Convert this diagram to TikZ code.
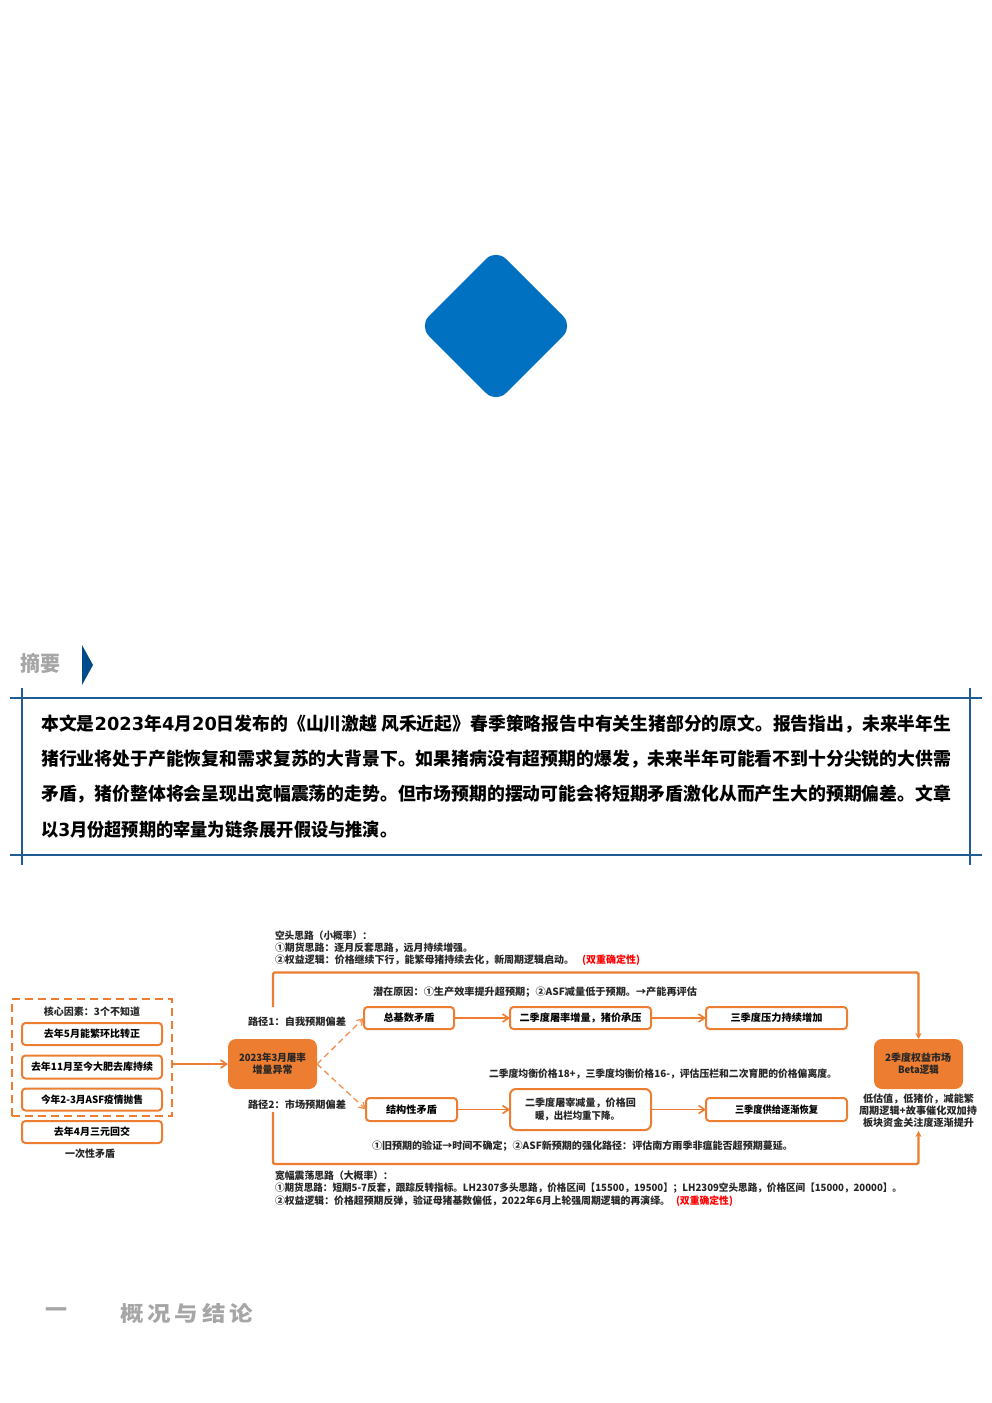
\documentclass[tikz,border=0pt]{standalone}
\usepackage{fontspec}
\usepackage{graphicx}
\setmainfont{Noto Sans CJK SC}
\newfontfamily\latinbody{DejaVu Sans}
\usetikzlibrary{arrows.meta}
\definecolor{orng}{HTML}{ED7D31}
\definecolor{navy}{HTML}{1F5C94}
\definecolor{gry}{HTML}{A6A6A6}
\definecolor{blued}{HTML}{0070C0}
\definecolor{dkblue}{HTML}{004A8C}
\newcommand\fitw[2]{\resizebox{#1pt}{\height}{#2}}
\newcommand\lnum[1]{{\latinbody\bfseries #1}}
\tikzset{
  lbl/.style={inner sep=0pt,outer sep=0pt,anchor=west,font=\fontsize{10}{10}\selectfont\bfseries,text=black!85},
  lblc/.style={lbl,anchor=center},
  redl/.style={lbl,text=red},
  bodyl/.style={inner sep=0pt,anchor=west,font=\fontsize{18}{18}\selectfont\bfseries,text=black},
  headl/.style={inner sep=0pt,anchor=west,font=\fontsize{21}{21}\selectfont\bfseries,text=gry},
  obox/.style={draw=orng,line width=2pt,rounded corners=3.5pt,fill=white,inner sep=0pt,outer sep=0pt},
  fbox/.style={fill=orng,rounded corners=8pt,inner sep=0pt,outer sep=0pt},
  dbox/.style={draw=orng,line width=2pt,dash pattern=on 8pt off 5pt,inner sep=0pt,outer sep=0pt},
  flow/.style={draw=orng,line width=1.6pt,-{Straight Barb[length=6pt,width=8pt]}},
  big/.style={draw=orng,line width=2.2pt,rounded corners=1.5pt,-{Stealth[length=6pt,width=6pt]}},
  dflow/.style={draw=orng!85,line width=1.3pt,dash pattern=on 6pt off 4pt,-{Straight Barb[length=6pt,width=7pt]}},
  frameln/.style={draw=navy,line width=1.3pt},
}
\begin{document}
\begin{tikzpicture}[x=1pt,y=-1pt]
\useasboundingbox (0,0) rectangle (992,1403);
% diamond
\fill[blued,rounded corners=14pt] (496,249) -- (573,326) -- (496,403) -- (419,326) -- cycle;
% heading
\node[headl] (abs) at (20,663) {\fitw{40}{摘要}};
\fill[dkblue] (82,645) -- (93,665) -- (82,685) -- cycle;
% frame
\draw[frameln] (10,698) -- (982,698);
\draw[frameln] (10,855) -- (982,855);
\draw[frameln] (22,688) -- (22,865);
\draw[frameln] (970,688) -- (970,865);
\node[bodyl] (l1) at (41,724.5) {\fitw{910}{本文是\lnum{2023}年\lnum{4}月\lnum{20}日发布的《山川激越 风禾近起》春季策略报告中有关生猪部分的原文。报告指出，未来半年生}};
\node[bodyl] (l2) at (41,759.5) {\fitw{910}{猪行业将处于产能恢复和需求复苏的大背景下。如果猪病没有超预期的爆发，未来半年可能看不到十分尖锐的大供需}};
\node[bodyl] (l3) at (41,794.5) {\fitw{910}{矛盾，猪价整体将会呈现出宽幅震荡的走势。但市场预期的摆动可能会将短期矛盾激化从而产生大的预期偏差。文章}};
\node[bodyl] (l4) at (41,829.5) {\fitw{356}{以\lnum{3}月份超预期的宰量为链条展开假设与推演。}};
% left group
\node[dbox,minimum width=160pt,minimum height=117pt,anchor=north west] (core) at (12,999) {};
\node[lblc] (coret) at (92,1012) {\fitw{96}{核心因素：3个不知道}};
\node[obox,minimum width=140pt,minimum height=22pt,font=\fontsize{10}{10}\selectfont\bfseries] (a1) at (92,1034) {\fitw{96}{去年5月能繁环比转正}};
\node[obox,minimum width=140pt,minimum height=23pt,font=\fontsize{10}{10}\selectfont\bfseries] (a2) at (92,1067) {\fitw{122}{去年11月至今大肥去库持续}};
\node[obox,minimum width=140pt,minimum height=22pt,font=\fontsize{10}{10}\selectfont\bfseries] (a3) at (92,1099.5) {\fitw{102}{今年2-3月ASF疫情抛售}};
\node[obox,minimum width=140pt,minimum height=22pt,font=\fontsize{10}{10}\selectfont\bfseries] (a4) at (92,1132) {\fitw{76}{去年4月三元回交}};
\node[lblc] (once) at (90,1154) {\fitw{50}{一次性矛盾}};
% source
\node[fbox,minimum width=89pt,minimum height=50pt,anchor=north west] (src) at (228,1039) {};
\node[lblc] (src1) at (272.5,1058) {\fitw{67}{2023年3月屠率}};
\node[lblc] (src2) at (272.5,1070) {\fitw{40}{增量异常}};
\draw[flow] (172,1064) coordinate (coreout) -- (src.west |- coreout);
% path labels
\node[lbl] (p1) at (248,1022) {\fitw{98}{路径1：自我预期偏差}};
\node[lbl] (p2) at (248,1105) {\fitw{98}{路径2：市场预期偏差}};
% row 1
\node[obox,minimum width=90pt,minimum height=22pt,font=\fontsize{10}{10}\selectfont\bfseries] (b1) at (409,1018) {\fitw{51}{总基数矛盾}};
\node[obox,minimum width=141pt,minimum height=22pt,font=\fontsize{10}{10}\selectfont\bfseries] (b2) at (580.5,1018) {\fitw{122}{二季度屠率增量，猪价承压}};
\node[obox,minimum width=141pt,minimum height=22pt,font=\fontsize{10}{10}\selectfont\bfseries] (b3) at (776.5,1018) {\fitw{92}{三季度压力持续增加}};
% row 2
\node[obox,minimum width=91pt,minimum height=23pt,font=\fontsize{10}{10}\selectfont\bfseries] (c1) at (411.5,1109.5) {\fitw{51}{结构性矛盾}};
\node[obox,minimum width=141pt,minimum height=41pt,rounded corners=6pt] (c2) at (580.5,1109.5) {};
\node[lblc] (c2a) at (580.5,1103) {\fitw{111}{二季度屠宰减量，价格回}};
\node[lblc] (c2b) at (577.5,1116) {\fitw{85}{暖，出栏均重下降。}};
\node[obox,minimum width=141pt,minimum height=23pt,font=\fontsize{10}{10}\selectfont\bfseries] (c3) at (776.5,1109.5) {\fitw{83}{三季度供给逐渐恢复}};
% connectors
\draw[flow] (b1) -- (b2);
\draw[flow] (b2) -- (b3);
\draw[flow] (c1) -- (c2);
\draw[flow] (c2) -- (c3);
\draw[dflow] (src.east) -- (b1.west);
\draw[dflow] (src.east) -- (c1.west);
% annotations
\node[lbl] (n1) at (373,992) {\fitw{324}{潜在原因：①生产效率提升超预期；②ASF减量低于预期。→产能再评估}};
\node[lbl] (n2) at (489,1074) {\fitw{348}{二季度均衡价格18+，三季度均衡价格16-，评估压栏和二次育肥的价格偏离度。}};
\node[lbl] (n3) at (372,1146) {\fitw{421}{①旧预期的验证→时间不确定；②ASF新预期的强化路径：评估南方雨季非瘟能否超预期蔓延。}};
% target
\node[fbox,minimum width=89pt,minimum height=50pt,anchor=north west] (tgt) at (874,1039) {};
\node[lblc] (t1) at (918,1058) {\fitw{66}{2季度权益市场}};
\node[lblc] (t2) at (918.5,1070) {\fitw{41}{Beta逻辑}};
\node[lblc] (r1) at (918.5,1099) {\fitw{111}{低估值，低猪价，减能繁}};
\node[lblc] (r2) at (918,1111) {\fitw{118}{周期逻辑+故事催化双加持}};
\node[lblc] (r3) at (918.5,1123) {\fitw{111}{板块资金关注度逐渐提升}};
% big routes
\coordinate (s1) at (273,1007);
\coordinate (s2) at (273,1112);
\coordinate (ctop) at (918.5,972.5);
\coordinate (cbot) at (918.5,1164);
\coordinate (r3b) at (918.5,1131);
\draw[big] (s1) |- (ctop) -- (tgt.north -| ctop);
\draw[big] (s2) |- (cbot) -- (r3b);
% top note
\node[lbl] (u1) at (275,936) {\fitw{97}{空头思路（小概率）：}};
\node[lbl] (u2) at (275,948) {\fitw{198}{①期货思路：逐月反套思路，远月持续增强。}};
\node[lbl] (u3) at (275,960) {\fitw{299}{②权益逻辑：价格继续下行，能繁母猪持续去化，新周期逻辑启动。}};
\node[redl] (u4) at (582,960) {\fitw{58}{(双重确定性)}};
% bottom note
\node[lbl] (d1) at (275,1176) {\fitw{118}{宽幅震荡思路（大概率）：}};
\node[lbl] (d2) at (275,1188) {\fitw{627}{①期货思路：短期5-7反套，跟踪反转指标。LH2307多头思路，价格区间【15500，19500】；LH2309空头思路，价格区间【15000，20000】。}};
\node[lbl] (d3) at (275,1201) {\fitw{395}{②权益逻辑：价格超预期反弹，验证母猪基数偏低，2022年6月上轮强周期逻辑的再演绎。}};
\node[redl] (d4) at (676,1201) {\fitw{57}{(双重确定性)}};
% section heading
\node[headl] (s0) at (45,1313) {\fitw{22}{一}};
\node[headl] (sh) at (120,1313) {\fitw{133}{概\,况\,与\,结\,论}};
\end{tikzpicture}
\end{document}
